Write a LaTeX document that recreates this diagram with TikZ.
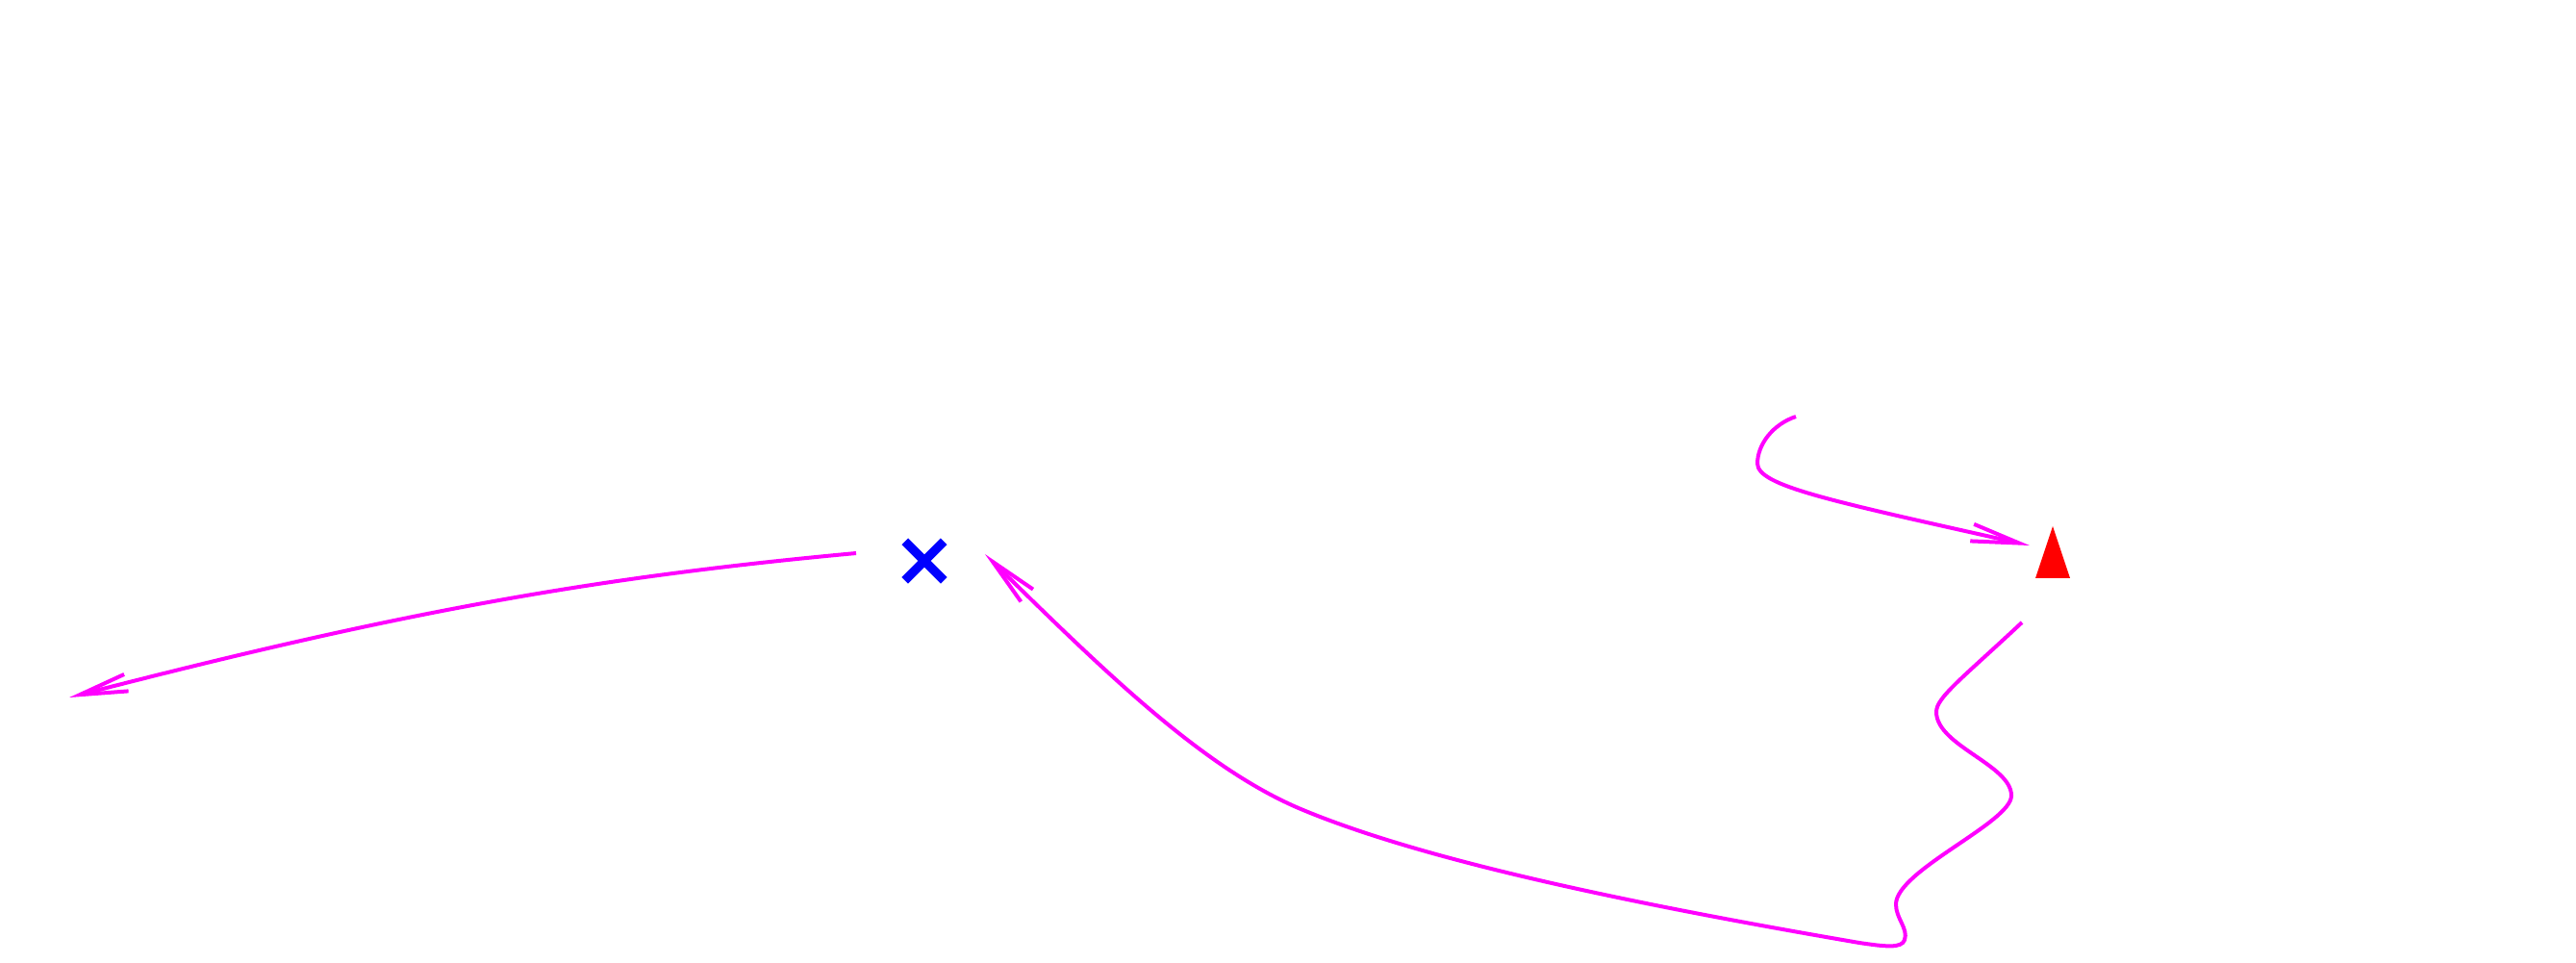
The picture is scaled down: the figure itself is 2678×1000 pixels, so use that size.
\documentclass[tikz,border=0pt]{standalone}
\usepackage{tikz}
\usetikzlibrary{arrows.meta,shapes.misc,shapes.geometric}
\definecolor{penpink}{RGB}{255,0,255}
\tikzset{pen/.style={draw=penpink,line width=0.4mm,
    -{Straight Barb[length=5mm,width=1.8mm]}},
  marker cross/.style={cross out,draw=blue,line width=0.95mm,
    minimum size=3.1mm,inner sep=0pt},
  marker tri/.style={isosceles triangle,shape border rotate=90,
    isosceles triangle stretches,minimum width=3.6mm,minimum height=5.4mm,
    inner sep=0pt,fill=red}
  }

\begin{document}
\begin{tikzpicture}[x=0.1mm,y=-0.1mm]
        \useasboundingbox (0,0) rectangle (2678,1000);
        \path (961,583) node[marker cross] (goal) {}
        (2134,588) node[marker tri] (start) {};
        \path (890,575) coordinate (s1)
        (72,725) coordinate (e1)
        (2102,647) coordinate (s2)
        (1024,576) coordinate (e2)
        (1867,433) coordinate (s3)
        (2110,567) coordinate (e3);
        \draw[pen] (s1) .. controls (620,600) and (420,635) .. (e1);
        \draw[pen] (s2) .. controls (2040,705) and (2013,725) .. (2013,740)
            .. controls (2013,775) and (2091,795) .. (2091,827)
            .. controls (2091,855) and (1971,905) .. (1971,940)
            .. controls (1971,955) and (1984,965) .. (1980,977)
            .. controls (1977,986) and (1960,984) .. (1933,980)
            .. controls (1700,940) and (1480,895) .. (1350,840)
            .. controls (1250,797) and (1150,700) .. (e2);
        \draw[pen] (s3) .. controls (1843,441) and (1827,462) .. (1827,482)
            .. controls (1828,505) and (1900,520) .. (e3);
        \end{tikzpicture}
\end{document}
